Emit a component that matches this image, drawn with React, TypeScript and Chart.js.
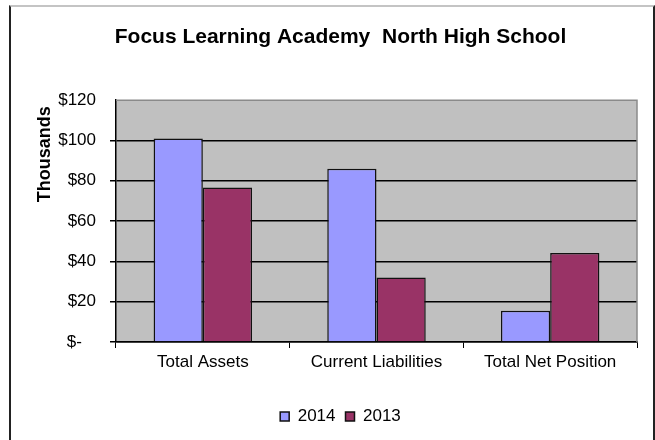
import React, { useEffect, useRef } from "react";
import { Chart, registerables } from "chart.js";

Chart.register(...registerables);

const titleText = "Focus Learning Academy  North High School";
const axisTitle = "Thousands";
const categories = ["Total Assets", "Current Liabilities", "Total Net Position"];
const series2014 = [101, 86, 15.5];
const series2013 = [76.7, 32, 44.2];
const seriesNames = ["2014", "2013"];
const yMin = 0;
const yMax = 120;
const yStep = 20;

const FONT = "'Liberation Sans', Arial, sans-serif";

export default function App() {
  const ref = useRef<HTMLCanvasElement | null>(null);

  useEffect(() => {
    if (!ref.current) return;
    const plotDeco = {
      id: "plotDeco",
      beforeDraw(chart: any) {
        const { ctx, chartArea: a } = chart;
        ctx.save();
        ctx.fillStyle = "#C0C0C0";
        ctx.fillRect(a.left, a.top, a.right - a.left, a.bottom - a.top);
        ctx.restore();
      },
      beforeDatasetsDraw(chart: any) {
        const { ctx, chartArea: a } = chart;
        ctx.save();
        ctx.strokeStyle = "#8a8a8a";
        ctx.lineWidth = 1.5;
        ctx.beginPath();
        ctx.moveTo(a.left, a.top);
        ctx.lineTo(a.right, a.top);
        ctx.lineTo(a.right, a.bottom);
        ctx.stroke();
        ctx.restore();
      },
      afterDraw(chart: any) {
        const { ctx, chartArea: a } = chart;
        ctx.save();
        ctx.translate(45, a.top + 54);
        ctx.rotate(-Math.PI / 2);
        ctx.font = `bold 18px ${FONT}`;
        ctx.fillStyle = "#000";
        ctx.textAlign = "center";
        ctx.textBaseline = "middle";
        ctx.fillText(axisTitle, 0, 0);
        ctx.restore();
      },
    };

    const chart = new Chart(ref.current, {
      type: "bar",
      data: {
        labels: categories,
        datasets: [
          {
            label: seriesNames[0],
            data: series2014,
            backgroundColor: "#9999FF",
            borderColor: "#111",
            borderWidth: 1.5,
            categoryPercentage: 0.567,
            barPercentage: 1,
          },
          {
            label: seriesNames[1],
            data: series2013,
            backgroundColor: "#993366",
            borderColor: "#111",
            borderWidth: 1.5,
            categoryPercentage: 0.567,
            barPercentage: 1,
          },
        ],
      },
      options: {
        responsive: false,
        animation: false,
        layout: { padding: { left: 44, right: 18, top: 0, bottom: 5 } },
        plugins: {
          title: {
            display: true,
            text: titleText,
            color: "#000",
            font: { family: FONT, size: 21, weight: "bold" },
            padding: { top: 25, bottom: 50 },
          },
          legend: {
            position: "bottom",
            labels: {
              color: "#000",
              font: { family: FONT, size: 17 },
              boxWidth: 9,
              boxHeight: 9,
              padding: 10,
            },
          },
          tooltip: { enabled: false },
        },
        scales: {
          x: {
            afterFit(scale: any) {
              scale.height = 56;
            },
            grid: {
              offset: true,
              drawOnChartArea: false,
              drawTicks: true,
              tickLength: 6,
              color: "#000",
            },
            border: { display: true, color: "#000", width: 1.5 },
            ticks: {
              color: "#000",
              font: { family: FONT, size: 17 },
              padding: 4,
            },
          },
          y: {
            min: yMin,
            max: yMax,
            afterFit(scale: any) {
              scale.width = 72;
            },
            grid: {
              color: (c: any) => (c.tick && c.tick.value === yMax ? "rgba(0,0,0,0)" : "#000"),
              lineWidth: 1.5,
              tickLength: 6,
              drawTicks: true,
            },
            border: { display: true, color: "#000", width: 1.5 },
            ticks: {
              stepSize: yStep,
              color: "#000",
              font: { family: FONT, size: 17 },
              padding: 14,
              callback: (v: any) => (Number(v) === 0 ? "$-   " : "$" + v),
            },
          },
        },
      },
      plugins: [plotDeco],
    });
    return () => chart.destroy();
  }, []);

  return (
    <div style={{ position: "fixed", left: 0, top: 0, width: 655, height: 440, background: "#fff" }}>
      <canvas ref={ref} width={655} height={440} style={{ position: "absolute", left: 0, top: 0 }} />
      <div
        style={{
          position: "absolute",
          left: 9,
          top: 5,
          width: 642,
          height: 440,
          borderTop: "2px solid #c4c4c4",
          borderLeft: "2px solid #222",
          borderRight: "2px solid #222",
          pointerEvents: "none",
        }}
      />
    </div>
  );
}
